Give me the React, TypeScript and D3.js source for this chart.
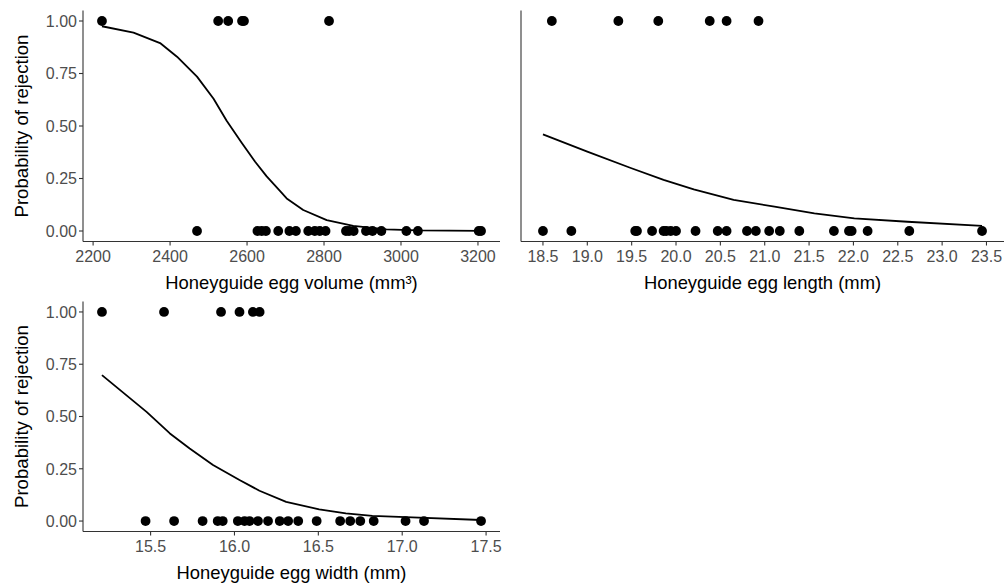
import React from "react";
import * as d3 from "d3";

// egg volume (mm³): rejected (1) and accepted (0)
const volumeRejected = [2223, 2525, 2551, 2587, 2592, 2813];
const volumeAccepted = [2470, 2627, 2638, 2649, 2681, 2710, 2727, 2759, 2776, 2789, 2804, 2857, 2865, 2877, 2909, 2926, 2949, 3014, 3044, 3202, 3208];
const volumeFitX = [2223, 2305, 2374, 2418, 2470, 2513, 2547, 2586, 2621, 2651, 2686, 2703, 2746, 2807, 2876, 2962, 3044, 3208];
const volumeFitP = [0.975, 0.945, 0.895, 0.83, 0.735, 0.63, 0.525, 0.42, 0.33, 0.26, 0.19, 0.155, 0.1, 0.052, 0.024, 0.008, 0.003, 0.001];
const volumeTicks = [2200, 2400, 2600, 2800, 3000, 3200];

// egg length (mm)
const lengthRejected = [18.6, 19.35, 19.8, 20.38, 20.57, 20.93];
const lengthAccepted = [18.5, 18.82, 19.54, 19.56, 19.73, 19.86, 19.89, 19.94, 20.0, 20.22, 20.47, 20.57, 20.8, 20.9, 21.05, 21.17, 21.39, 21.78, 21.95, 21.98, 22.16, 22.63, 23.45];
const lengthFitX = [18.5, 19.0, 19.49, 19.86, 20.2, 20.65, 21.11, 21.56, 22.01, 22.61, 23.45];
const lengthFitP = [0.46, 0.378, 0.3, 0.243, 0.198, 0.148, 0.116, 0.084, 0.06, 0.044, 0.024];
const lengthTicks = ["18.5", "19.0", "19.5", "20.0", "20.5", "21.0", "21.5", "22.0", "22.5", "23.0", "23.5"];

// egg width (mm)
const widthRejected = [15.21, 15.58, 15.92, 16.03, 16.11, 16.15];
const widthAccepted = [15.47, 15.64, 15.81, 15.9, 15.93, 16.02, 16.06, 16.09, 16.14, 16.2, 16.27, 16.32, 16.38, 16.49, 16.63, 16.69, 16.75, 16.83, 17.02, 17.13, 17.47];
const widthFitX = [15.21, 15.476, 15.615, 15.733, 15.872, 16.03, 16.149, 16.308, 16.505, 16.664, 16.822, 17.06, 17.47];
const widthFitP = [0.698, 0.522, 0.419, 0.347, 0.268, 0.196, 0.145, 0.092, 0.056, 0.037, 0.025, 0.018, 0.005];
const widthTicks = ["15.5", "16.0", "16.5", "17.0", "17.5"];

const probTicks = ["0.00", "0.25", "0.50", "0.75", "1.00"];

const FONT = "'Liberation Sans', Arial, sans-serif";
const TICK_COL = "#4d4d4d";
const AXIS_COL = "#333333";

type PanelProps = {
  left: number;
  right: number;
  top: number;
  bottom: number;
  rejected: number[];
  accepted: number[];
  fitX: number[];
  fitP: number[];
  ticks: (string | number)[];
  title: string;
  showY: boolean;
};

function Panel({ left, right, top, bottom, rejected, accepted, fitX, fitP, ticks, title, showY }: PanelProps) {
  const all = rejected.concat(accepted);
  const [lo, hi] = d3.extent(all) as [number, number];
  const pad = (hi - lo) * 0.05;
  const x = d3.scaleLinear().domain([lo - pad, hi + pad]).range([left, right]);
  const y = d3.scaleLinear().domain([-0.05, 1.05]).range([bottom, top]);
  const line = d3.line<number>()
    .x((d, i) => x(fitX[i]))
    .y(d => y(d));
  const midY = (y(0) + y(1)) / 2;

  return (
    <g>
      <path d={line(fitP) || ""} fill="none" stroke="#000" strokeWidth={1.8} strokeLinejoin="round" />
      {rejected.map((v, i) => (
        <circle key={"r" + i} cx={x(v)} cy={y(1)} r={4.9} fill="#000" />
      ))}
      {accepted.map((v, i) => (
        <circle key={"a" + i} cx={x(v)} cy={y(0)} r={4.9} fill="#000" />
      ))}
      <line x1={left} x2={left} y1={top} y2={bottom} stroke={AXIS_COL} strokeWidth={1.1} />
      <line x1={left} x2={right} y1={bottom} y2={bottom} stroke={AXIS_COL} strokeWidth={1.1} />
      {ticks.map(t => (
        <g key={"x" + t}>
          <line x1={x(+t)} x2={x(+t)} y1={bottom} y2={bottom + 4} stroke={AXIS_COL} strokeWidth={1.1} />
          <text x={x(+t)} y={bottom + 20.5} textAnchor="middle" fontSize={16} fill={TICK_COL} fontFamily={FONT}>{t}</text>
        </g>
      ))}
      {showY && probTicks.map(t => (
        <g key={"y" + t}>
          <line x1={left - 4} x2={left} y1={y(+t)} y2={y(+t)} stroke={AXIS_COL} strokeWidth={1.1} />
          <text x={left - 6} y={y(+t)} dy="0.36em" textAnchor="end" fontSize={16} fill={TICK_COL} fontFamily={FONT}>{t}</text>
        </g>
      ))}
      <text x={(left + right) / 2} y={bottom + 47.5} textAnchor="middle" fontSize={18.4} fill="#000" fontFamily={FONT}>{title}</text>
      {showY && (
        <text transform={`translate(28,${midY}) rotate(-90)`} textAnchor="middle" fontSize={18.6} fill="#000" fontFamily={FONT}>
          Probability of rejection
        </text>
      )}
    </g>
  );
}

export default function App() {
  return (
    <svg width={1005} height={586} style={{ position: "absolute", left: 0, top: 0, background: "#fff" }}>
      <rect width={1005} height={586} fill="#fff" />
      <Panel left={83} right={500} top={10.5} bottom={241.5}
        rejected={volumeRejected} accepted={volumeAccepted} fitX={volumeFitX} fitP={volumeFitP}
        ticks={volumeTicks} title="Honeyguide egg volume (mm³)" showY={true} />
      <Panel left={521} right={1004} top={10.5} bottom={241.5}
        rejected={lengthRejected} accepted={lengthAccepted} fitX={lengthFitX} fitP={lengthFitP}
        ticks={lengthTicks} title="Honeyguide egg length (mm)" showY={false} />
      <Panel left={83} right={500} top={301.5} bottom={531.5}
        rejected={widthRejected} accepted={widthAccepted} fitX={widthFitX} fitP={widthFitP}
        ticks={widthTicks} title="Honeyguide egg width (mm)" showY={true} />
    </svg>
  );
}
